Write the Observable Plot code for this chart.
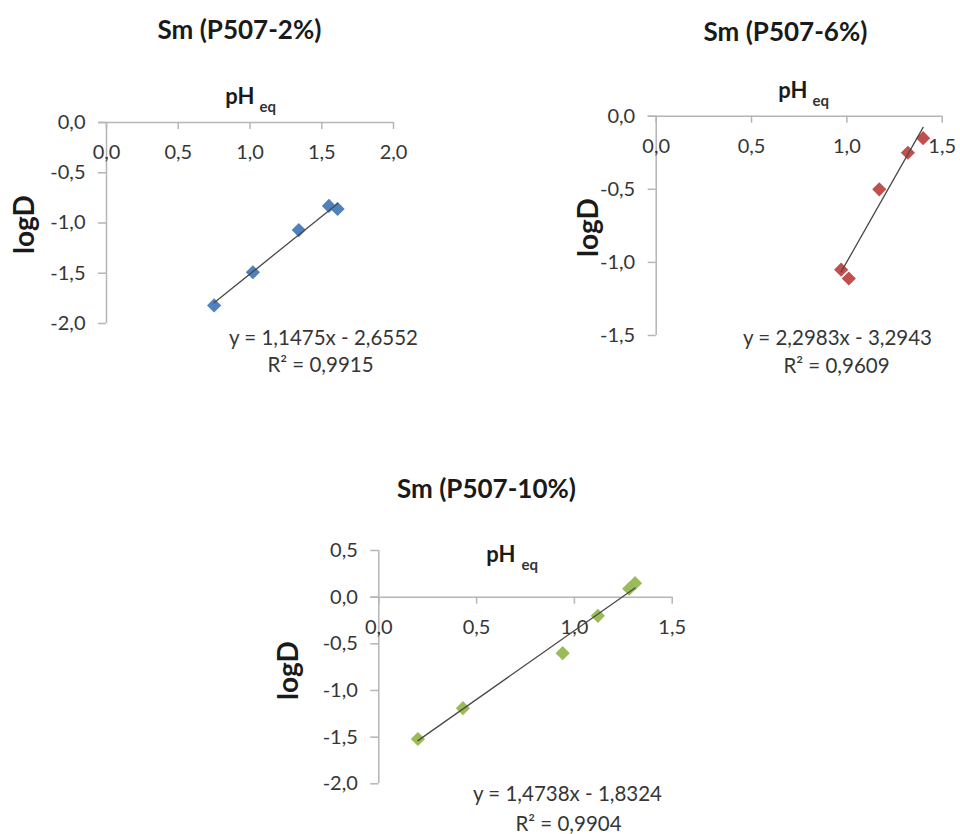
<!DOCTYPE html>
<html><head><meta charset="utf-8">
<script src="https://cdn.jsdelivr.net/npm/d3@7"></script>
<script src="https://cdn.jsdelivr.net/npm/@observablehq/plot@0.6"></script>
<style>
body{margin:0;background:#fff;}
#page{position:relative;width:960px;height:834px;overflow:hidden;font-family:Lato,sans-serif;background:#fff;}
#page svg{position:absolute;}
</style></head><body><div id="page"></div>
<script>
// ---- data ----
const titles = ["Sm (P507-2%)", "Sm (P507-6%)", "Sm (P507-10%)"];
const colors = ["#4f81bd", "#c0504d", "#9bbb59"];
const xLabel = "pH";
const xLabelSub = "eq";
const yLabel = "logD";

const ph2 = [0.75, 1.02, 1.34, 1.55, 1.61];
const logD2 = [-1.82, -1.49, -1.07, -0.83, -0.86];
const ph6 = [0.97, 1.01, 1.17, 1.32, 1.40];
const logD6 = [-1.05, -1.11, -0.50, -0.25, -0.15];
const ph10 = [0.20, 0.43, 0.94, 1.12, 1.28, 1.31];
const logD10 = [-1.52, -1.19, -0.60, -0.20, 0.09, 0.15];

const slopes = [1.1475, 2.2983, 1.4738];
const intercepts = [-2.6552, -3.2943, -1.8324];
const r2s = [0.9915, 0.9609, 0.9904];

const xTicks2 = [0, 0.5, 1, 1.5, 2];
const yTicks2 = [0, -0.5, -1, -1.5, -2];
const xTicks6 = [0, 0.5, 1, 1.5];
const yTicks6 = [0, -0.5, -1, -1.5];
const xTicks10 = [0, 0.5, 1, 1.5];
const yTicks10 = [0.5, 0, -0.5, -1, -1.5, -2];

// ---- layout (page pixels) ----
const layouts = [
  {box:[0,0,480,400], frame:[106,122,393,323], title:[239,30], pH:[254,96], eq:[259,107], logD:[25,224], eqn:[323,338], r2:[320,365]},
  {box:[480,0,480,400], frame:[655.7,115.7,941.7,335], title:[785,32], pH:[807,90], eq:[812,101], logD:[589,227], eqn:[837,338], r2:[836,366]},
  {box:[200,440,560,394], frame:[378.3,550,671.7,783.3], title:[486,489], pH:[515,554], eq:[521,565], logD:[289,670], eqn:[567,794], r2:[568,824]}
];

const panels = [
  {x: ph2, y: logD2, xTicks: xTicks2, yTicks: yTicks2},
  {x: ph6, y: logD6, xTicks: xTicks6, yTicks: yTicks6},
  {x: ph10, y: logD10, xTicks: xTicks10, yTicks: yTicks10}
];

const fmt1 = v => v.toFixed(1).replace(".", ",");
const fmt4 = v => v.toFixed(4).replace(".", ",");
const axisColor = "#b5b5b5";
const textColor = "#363636";
const page = document.getElementById("page");

panels.forEach((p, k) => {
  const L = layouts[k];
  const [bx, by, bw, bh] = L.box;
  const [fx0, fy0, fx1, fy1] = L.frame;
  const place = (pt, anchor = "middle") => ({frameAnchor: "top-left", dx: pt[0] - fx0, dy: pt[1] - fy0, textAnchor: anchor, lineAnchor: "middle"});
  const xDomain = d3.extent(p.xTicks);
  const yDomain = d3.extent(p.yTicks);
  const pts = p.x.map((x, i) => ({x, y: p.y[i]}));
  const ext = d3.extent(p.x);
  const fit = ext.map(x => ({x, y: slopes[k] * x + intercepts[k]}));
  const eqText = `y = ${fmt4(slopes[k])}x - ${fmt4(-intercepts[k])}`;
  const r2Text = `R² = ${fmt4(r2s[k])}`;

  const chart = Plot.plot({
    width: bw, height: bh,
    marginLeft: fx0 - bx, marginTop: fy0 - by,
    marginRight: bx + bw - fx1, marginBottom: by + bh - fy1,
    x: {domain: xDomain, axis: null},
    y: {domain: yDomain, axis: null},
    style: {fontFamily: "Lato, sans-serif", overflow: "visible", background: "transparent"},
    marks: [
      // axis lines
      Plot.ruleY([0], {x1: xDomain[0], x2: xDomain[1], stroke: axisColor, strokeWidth: 1.5, insetLeft: -8}),
      Plot.ruleX([0], {y1: yDomain[0], y2: yDomain[1], stroke: axisColor, strokeWidth: 1.5}),
      // ticks
      Plot.ruleX(p.xTicks, {x: d => d, y1: 0, y2: 0, insetTop: 0, insetBottom: -7, stroke: axisColor, strokeWidth: 1.5}),
      Plot.ruleY(p.yTicks, {y: d => d, x1: 0, x2: 0, insetLeft: -8, insetRight: 0, stroke: axisColor, strokeWidth: 1.5}),
      // tick labels
      Plot.text(p.xTicks, {x: d => d, y: 0, text: d => fmt1(d), dy: 30, fontSize: 20, fill: textColor}),
      Plot.text(p.yTicks, {x: 0, y: d => d, text: d => fmt1(d), dx: -21, textAnchor: "end", fontSize: 20, fill: textColor}),
      // data
      Plot.dot(pts, {x: "x", y: "y", symbol: "diamond2", r: 6.4, fill: colors[k], stroke: "none"}),
      Plot.line(fit, {x: "x", y: "y", stroke: "#4a4a4a", strokeWidth: 1.3}),
      // texts
      Plot.text([titles[k]], {text: d => d, ...place(L.title), fontSize: 26, fontWeight: "bold", fill: "#1a1a1a"}),
      Plot.text([xLabel], {text: d => d, ...place(L.pH, "end"), fontSize: 22, fontWeight: "bold", fill: "#1a1a1a"}),
      Plot.text([xLabelSub], {text: d => d, ...place(L.eq, "start"), fontSize: 15, fontWeight: "bold", fill: "#333"}),
      Plot.text([yLabel], {text: d => d, ...place(L.logD), rotate: -90, fontSize: 28, fontWeight: "bold", fill: "#1a1a1a"}),
      Plot.text([eqText], {text: d => d, ...place(L.eqn), fontSize: 20.5, fill: textColor}),
      Plot.text([r2Text], {text: d => d, ...place(L.r2), fontSize: 20.5, fill: textColor})
    ]
  });
  chart.style.left = bx + "px";
  chart.style.top = by + "px";
  page.appendChild(chart);
});
</script>
</body></html>
